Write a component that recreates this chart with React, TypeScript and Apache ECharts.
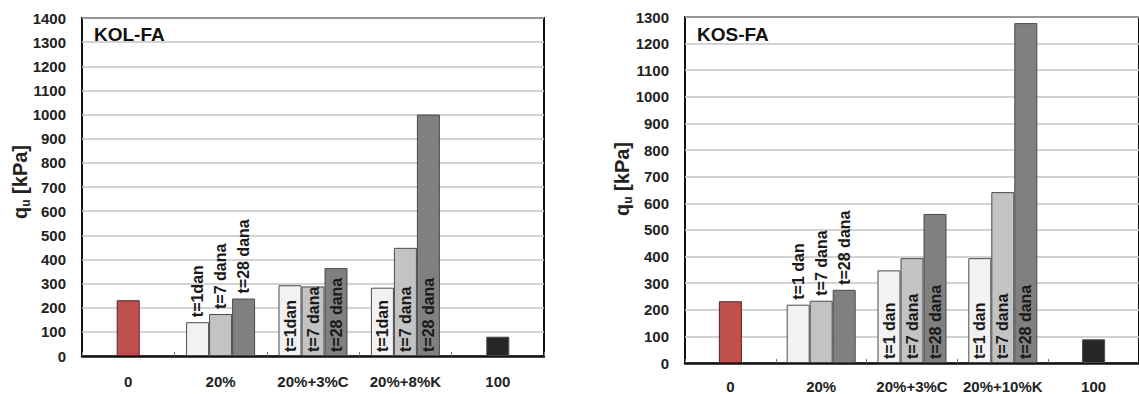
import React, { useEffect, useRef } from "react";
import * as echarts from "echarts";

// Categories
const kolCategories = ["0", "20%", "20%+3%C", "20%+8%K", "100"];
const kosCategories = ["0", "20%", "20%+3%C", "20%+10%K", "100"];

// Reference bars (0 % and 100 %)
const kolRef = [231, 80];
const kosRef = [232, 89];

// Mixture bars (20%, 20%+3%C, 20%+8/10%K) by curing time
const kolT1 = [140, 293, 283];
const kolT7 = [174, 288, 448];
const kolT28 = [238, 364, 1000];

const kosT1 = [219, 348, 394];
const kosT7 = [234, 394, 642];
const kosT28 = [275, 560, 1277];

// Bar label texts
const kolLabels = ["t=1dan", "t=7 dana", "t=28 dana"];
const kosLabels = ["t=1 dan", "t=7 dana", "t=28 dana"];

const FONT = "'Liberation Sans', Arial, Helvetica, sans-serif";
const C_T1 = "#f2f2f2";
const C_T7 = "#c3c3c3";
const C_T28 = "#808080";
const C_RED = "#c0504d";
const C_BLACK = "#262626";
const C_BORDER = "#4a4a4a";

function itemLabel(idx: number) {
  // idx = mixture index 0..2; first mixture (20%) labels above bars
  if (idx === 0) return { position: "top", distance: 5 };
  return { position: "insideBottom", distance: 4 };
}

function buildSeries(
  grid: number,
  t1: number[],
  t7: number[],
  t28: number[],
  ref: number[],
  labels: string[]
) {
  const baseLabel = {
    show: true,
    rotate: 90,
    align: "left",
    verticalAlign: "middle",
    fontFamily: FONT,
    fontSize: 16,
    fontWeight: "bold",
    color: "#1a1a1a",
  };
  const mk = (vals: number[], text: string) =>
    vals.map((v, i) => ({
      value: v,
      label: { ...itemLabel(i), formatter: text },
    }));
  const common = {
    type: "bar",
    xAxisIndex: grid,
    yAxisIndex: grid,
    barWidth: 23,
    barGap: "0%",
    label: baseLabel,
  };
  return [
    {
      ...common,
      name: labels[0],
      itemStyle: { color: C_T1, borderColor: C_BORDER, borderWidth: 1 },
      data: ["-", ...mk(t1, labels[0]), "-"],
    },
    {
      ...common,
      name: labels[1],
      itemStyle: { color: C_T7, borderColor: C_BORDER, borderWidth: 1 },
      data: [
        { value: ref[0], itemStyle: { color: C_RED, borderColor: "#5a2322" }, label: { show: false } },
        ...mk(t7, labels[1]),
        { value: ref[1], itemStyle: { color: C_BLACK }, label: { show: false } },
      ],
    },
    {
      ...common,
      name: labels[2],
      itemStyle: { color: C_T28, borderColor: C_BORDER, borderWidth: 1 },
      data: ["-", ...mk(t28, labels[2]), "-"],
    },
  ];
}

function xAxisFor(grid: number, cats: string[], margin: number) {
  return {
    type: "category",
    gridIndex: grid,
    data: cats,
    axisLine: { show: true, lineStyle: { color: "#111", width: 2.5 } },
    axisTick: { show: true, inside: true, length: 4, lineStyle: { color: "#777", width: 1 } },
    axisLabel: {
      interval: 0,
      margin,
      fontFamily: FONT,
      fontSize: 15,
      fontWeight: "bold",
      color: "#222",
    },
    splitLine: { show: false },
  };
}

function yAxisFor(grid: number, max: number) {
  return {
    type: "value",
    gridIndex: grid,
    min: 0,
    max,
    interval: 100,
    axisLine: { show: false },
    axisTick: { show: false },
    axisLabel: {
      margin: 16,
      fontFamily: FONT,
      fontSize: 15,
      fontWeight: "bold",
      color: "#222",
      formatter: (v: number) => String(v),
    },
    splitLine: { show: true, lineStyle: { color: "#c4c4c4", width: 1.5 } },
  };
}

function yTitle(x: number, y: number) {
  return {
    type: "text",
    x,
    y,
    rotation: Math.PI / 2,
    z: 100,
    style: {
      text: "{q|q}{s|u}{q| [kPa]}",
      align: "center",
      verticalAlign: "middle",
      rich: {
        q: { fontFamily: FONT, fontSize: 20, fontWeight: "bold", fill: "#222", lineHeight: 24 },
        s: {
          fontFamily: FONT,
          fontSize: 12,
          fontWeight: "bold",
          fill: "#222",
          lineHeight: 24,
          verticalAlign: "bottom",
          padding: [9, 0, 0, 0],
        },
      },
    },
  };
}

function panelTitle(x: number, y: number, text: string) {
  return {
    type: "text",
    x,
    y,
    z: 100,
    style: {
      text,
      fontFamily: FONT,
      fontSize: 19,
      fontWeight: "bold",
      fill: "#111",
      align: "left",
      verticalAlign: "middle",
    },
  };
}

export default function App() {
  const ref = useRef<HTMLDivElement>(null);
  useEffect(() => {
    if (!ref.current) return;
    const chart = echarts.init(ref.current, undefined, { renderer: "svg" });
    const gridStyle = { show: true, borderColor: "#111", borderWidth: 2, backgroundColor: "#fff" };
    chart.setOption({
      animation: false,
      backgroundColor: "#fff",
      grid: [
        { left: 82, top: 18, width: 462, height: 338, ...gridStyle },
        { left: 685, top: 17, width: 470, height: 346, ...gridStyle },
      ],
      xAxis: [xAxisFor(0, kolCategories, 18), xAxisFor(1, kosCategories, 16)],
      yAxis: [yAxisFor(0, 1400), yAxisFor(1, 1300)],
      series: [
        ...buildSeries(0, kolT1, kolT7, kolT28, kolRef, kolLabels),
        ...buildSeries(1, kosT1, kosT7, kosT28, kosRef, kosLabels),
      ],
      graphic: [
        panelTitle(94, 34, "KOL-FA"),
        panelTitle(697, 34, "KOS-FA"),
        yTitle(20, 182),
        yTitle(622, 179),
      ],
    });
    return () => chart.dispose();
  }, []);
  return (
    <div
      ref={ref}
      style={{ position: "absolute", left: 0, top: 0, width: 1139, height: 394 }}
    />
  );
}
